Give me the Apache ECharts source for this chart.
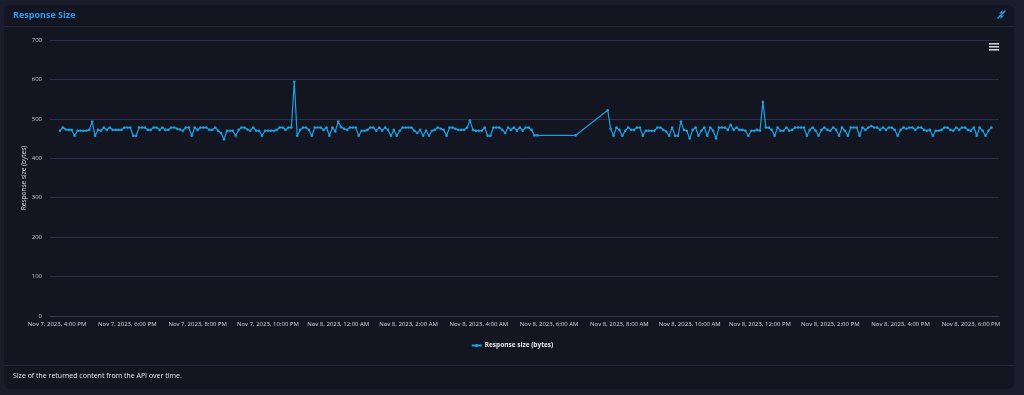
<!DOCTYPE html>
<html>
<head>
<meta charset="utf-8">
<script src="https://cdn.jsdelivr.net/npm/echarts@6/dist/echarts.min.js"></script>
<style>
html,body{margin:0;padding:0;background:#1b1c2c;}
#c{width:1024px;height:395px;}
</style>
</head>
<body>
<div id="c"></div>
<script>
// ---- data ----
const titleText = 'Response Size';
const footerText = 'Size of the returned content from the API over time.';
const seriesName = 'Response size (bytes)';
const yAxisName = 'Response size (bytes)';
const yTicks = [0, 100, 200, 300, 400, 500, 600, 700];
const axisStart = [2023, 10, 7, 15, 48];   // Nov 7, 2023 3:48 PM
const axisEnd = [2023, 10, 8, 18, 48];     // Nov 8, 2023 6:48 PM
const stepMinutes = 5;
const seg1Start = [2023, 10, 7, 16, 5];
const seg1Values = [
470,478,473,472,472,457,470,470,470,470,
472,493,457,472,470,478,472,478,472,472,
472,472,478,478,478,457,457,478,478,478,
472,472,478,478,472,478,472,472,478,478,
475,473,470,478,478,457,478,472,478,478,
478,472,472,478,470,464,448,470,470,470,
457,472,478,478,473,470,478,470,470,457,
470,470,470,470,472,478,478,472,478,478,
594,457,472,478,478,472,457,478,478,478,
472,478,457,478,468,493,479,475,472,478,
478,478,457,470,470,472,478,478,470,478,
470,478,472,457,472,457,470,478,478,478,
478,470,464,472,457,470,457,470,472,478,
475,472,457,478,478,475,472,472,472,478,
496,472,470,470,470,478,457,457,478,478,
478,472,464,478,472,478,470,478,470,478,
478,472,458,458
];
const gapTimes = [[2023, 10, 8, 6, 45]];
const gapValues = [458];
const seg2Start = [2023, 10, 8, 7, 40];
const seg2Values = [
522,475,457,478,472,457,470,478,472,472,
478,478,457,470,470,470,470,478,478,472,
468,457,478,457,457,493,472,470,450,472,
478,457,470,478,457,478,470,450,478,478,
478,472,485,472,478,472,472,470,457,470,
470,472,470,543,478,478,472,457,478,470,
470,478,470,472,478,478,478,478,457,472,
478,470,457,472,478,472,470,478,472,457,
478,470,457,478,478,478,457,478,472,478,
482,478,478,472,478,472,478,478,472,457,
472,478,475,478,478,472,478,478,472,470,
472,457,470,470,472,478,478,472,470,478,
472,478,478,472,470,478,457,478,470,457,
470,478
];

// ---- build ----
function ts(a){ return new Date(a[0], a[1], a[2], a[3], a[4]).getTime(); }
const stepMs = stepMinutes * 60000;
const data = [];
seg1Values.forEach((v, i) => data.push([ts(seg1Start) + i * stepMs, v]));
gapValues.forEach((v, i) => data.push([ts(gapTimes[i]), v]));
seg2Values.forEach((v, i) => data.push([ts(seg2Start) + i * stepMs, v]));

const months = ['Jan','Feb','Mar','Apr','May','Jun','Jul','Aug','Sep','Oct','Nov','Dec'];
function fmt(val){
  const d = new Date(val);
  if (d.getMinutes() !== 0 || d.getHours() % 2 !== 0) return '';
  let h = d.getHours();
  const ap = h >= 12 ? 'PM' : 'AM';
  h = h % 12; if (h === 0) h = 12;
  return months[d.getMonth()] + ' ' + d.getDate() + ', ' + d.getFullYear() + ', ' + h + ':00 ' + ap;
}

const FONT = '"Open Sans", "Noto Sans", sans-serif';
const lineColor = '#1ba1e3';
const chart = echarts.init(document.getElementById('c'), null, {renderer: 'canvas'});
chart.setOption({
  backgroundColor: '#1b1c2c',
  animation: false,
  graphic: [
    {type: 'rect', z: -10, shape: {x: 4, y: 5, width: 1010, height: 384, r: 6}, style: {fill: '#131521'}},
    {type: 'line', z: -9, shape: {x1: 4, y1: 26.5, x2: 1014, y2: 26.5}, style: {stroke: '#23263a', lineWidth: 1}},
    {type: 'line', z: -9, shape: {x1: 4, y1: 365.5, x2: 1014, y2: 365.5}, style: {stroke: '#23263a', lineWidth: 1}},
    {type: 'text', left: 13, top: 11, style: {text: titleText, fill: '#2b9cf0', font: 'bold 9px ' + FONT}},
    {type: 'text', left: 13, top: 372, style: {text: footerText, fill: '#e4e4ea', font: '7px ' + FONT}},
    // collapse icon (arrows pointing inward)
    {type: 'polyline', shape: {points: [[997.5, 18.5], [1005.5, 10.5]]}, style: {stroke: '#2b9cf0', lineWidth: 1.4}},
    {type: 'polygon', shape: {points: [[1002.5, 13.5], [1002.5, 10], [999, 13.5]]}, style: {fill: '#2b9cf0'}},
    {type: 'polygon', shape: {points: [[1000.5, 15.5], [1000.5, 19], [1004, 15.5]]}, style: {fill: '#2b9cf0'}},
    // menu icon
    {type: 'rect', shape: {x: 989, y: 43, width: 10, height: 1.6}, style: {fill: '#d0d0d8'}},
    {type: 'rect', shape: {x: 989, y: 46, width: 10, height: 1.6}, style: {fill: '#d0d0d8'}},
    {type: 'rect', shape: {x: 989, y: 49, width: 10, height: 1.6}, style: {fill: '#d0d0d8'}}
  ],
  legend: {
    data: [seriesName],
    left: 'center',
    top: 337,
    itemWidth: 10,
    itemHeight: 4,
    itemGap: 4,
    textStyle: {color: '#e8e8ee', fontWeight: 'bold', fontSize: 6.5, fontFamily: FONT, padding: [0, 0, 0, -2]}
  },
  grid: {left: 50, right: 25, top: 40, bottom: 79},
  xAxis: {
    type: 'time',
    min: ts(axisStart),
    max: ts(axisEnd),
    minInterval: 2 * 3600000,
    maxInterval: 2 * 3600000,
    axisLine: {show: true, lineStyle: {color: '#363a5a', width: 1}},
    axisTick: {show: false},
    splitLine: {show: false},
    axisLabel: {color: '#d6d6de', fontSize: 6, fontFamily: FONT, margin: 5, formatter: fmt, hideOverlap: false}
  },
  yAxis: {
    type: 'value',
    min: yTicks[0],
    max: yTicks[yTicks.length - 1],
    interval: 100,
    name: yAxisName,
    nameLocation: 'middle',
    nameGap: 22,
    nameMoveOverlap: false,
    nameTextStyle: {color: '#d6d6de', fontSize: 6.5, fontFamily: FONT},
    axisLine: {show: false},
    axisTick: {show: false},
    splitLine: {lineStyle: {color: '#2c2f4c', width: 1}},
    axisLabel: {color: '#c8c8d2', fontSize: 6, fontFamily: FONT, margin: 8}
  },
  series: [{
    name: seriesName,
    type: 'line',
    data: data,
    symbol: 'circle',
    symbolSize: 2.6,
    showSymbol: true,
    showAllSymbol: true,
    itemStyle: {color: lineColor},
    lineStyle: {color: lineColor, width: 1.2}
  }]
});
</script>
</body>
</html>
